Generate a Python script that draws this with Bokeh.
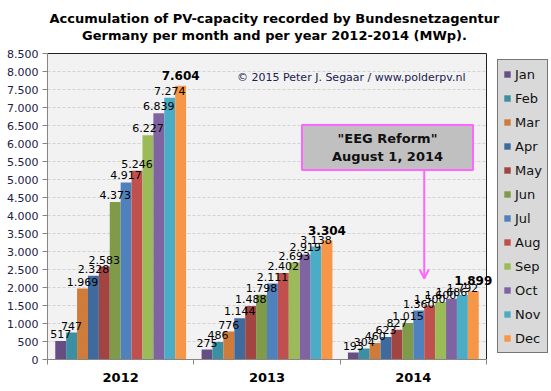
from bokeh.plotting import figure
from bokeh.models import (ColumnDataSource, Range1d, FixedTicker, Legend, LegendItem,
                          Label, Arrow, OpenHead)
from bokeh.transform import dodge
from bokeh.core.properties import value
from bokeh.embed import file_html
from bokeh.resources import INLINE

# ---------------- data ----------------
years = ["2012", "2013", "2014"]
months = ["Jan", "Feb", "Mar", "Apr", "May", "Jun",
          "Jul", "Aug", "Sep", "Oct", "Nov", "Dec"]
mwp_2012 = [517, 747, 1969, 2328, 2583, 4373, 4917, 5246, 6227, 6839, 7274, 7604]
mwp_2013 = [275, 486, 776, 1144, 1488, 1798, 2111, 2402, 2693, 2919, 3138, 3304]
mwp_2014 = [193, 304, 460, 623, 827, 1015, 1360, 1500, 1600, 1686, 1792, 1899]
month_colors = ["#664E85", "#3A8FA2", "#CF7B39", "#3F6A9E", "#A24442", "#7F9A48",
                "#4F81BD", "#C0504D", "#9BBB59", "#8064A2", "#4BACC6", "#F79646"]
y_ticks = [0, 500, 1000, 1500, 2000, 2500, 3000, 3500, 4000,
           4500, 5000, 5500, 6000, 6500, 7000, 7500, 8000, 8500]
y_tick_labels = ["0", "500", "1.000", "1.500", "2.000", "2.500", "3.000", "3.500", "4.000",
                 "4.500", "5.000", "5.500", "6.000", "6.500", "7.000", "7.500", "8.000", "8.500"]
title_lines = ["Accumulation of PV-capacity recorded by Bundesnetzagentur",
               "Germany per month and per year 2012-2014 (MWp)."]
credit = "\u00a9 2015 Peter J. Segaar / www.polderpv.nl"
note_text = '"EEG Reform"\nAugust 1, 2014'
note_year = "2014"
note_month = "Aug"


def fmt(v):
    return f"{v:,}".replace(",", ".")


series = [mwp_2012, mwp_2013, mwp_2014]
data = {"year": years, "xi": [i + 0.5 for i in range(len(years))]}
for j, m in enumerate(months):
    vals = [s[j] for s in series]
    data[m] = vals
    data[m + "_lbl"] = [fmt(v) for v in vals]
src = ColumnDataSource(data)

# ---------------- layout ----------------
# The frame covers the whole area right of the y axis and above the x axis;
# the grey plot area is drawn inside it so that title and legend stay unclipped.
W, H = 549, 389
MB_L, MB_B = 47, 30
FW, FH = W - MB_L, H - MB_B           # frame size in px
PLOT_W, PLOT_H = 439, 306             # grey plot-area size in px
Y_MAX = y_ticks[-1]
FONT = "DejaVu Sans"

p = figure(width=W, height=H, title=None,
           x_range=Range1d(0, len(years) * FW / PLOT_W),
           y_range=Range1d(0, Y_MAX * FH / PLOT_H),
           output_backend="svg", toolbar_location=None,
           min_border_left=MB_L, min_border_right=0,
           min_border_top=0, min_border_bottom=MB_B,
           background_fill_color="white", border_fill_color="white",
           outline_line_color=None)

# plot area
p.quad(left=[0], right=[len(years)], bottom=[0], top=[Y_MAX],
       fill_color="#F2F2F2", line_color="#222222", line_width=1)
p.segment(x0=[0] * (len(y_ticks) - 2), x1=[len(years)] * (len(y_ticks) - 2),
          y0=y_ticks[1:-1], y1=y_ticks[1:-1],
          line_color="#D2D2D2", line_dash="3 2", line_width=1)

# axes
xa = p.xaxis[0]
xa.bounds = (0, len(years))
xa.ticker = FixedTicker(ticks=data["xi"], minor_ticks=list(range(len(years) + 1)))
xa.major_label_overrides = {x: y for x, y in zip(data["xi"], years)}
xa.major_tick_in = 0
xa.major_tick_out = 0
xa.minor_tick_in = 0
xa.minor_tick_out = 5
xa.minor_tick_line_color = "#868686"
xa.axis_line_color = "#868686"
xa.major_label_standoff = 8
xa.major_label_text_font = FONT
xa.major_label_text_font_style = "bold"
xa.major_label_text_font_size = "13px"
xa.major_label_text_color = "black"

ya = p.yaxis[0]
ya.bounds = (0, Y_MAX)
ya.ticker = FixedTicker(ticks=y_ticks)
ya.major_label_overrides = {t: l for t, l in zip(y_ticks, y_tick_labels)}
ya.major_tick_in = 0
ya.major_tick_out = 5
ya.minor_tick_line_color = None
ya.major_tick_line_color = "#868686"
ya.axis_line_color = "#868686"
ya.major_label_standoff = 4
ya.major_label_text_font = FONT
ya.major_label_text_font_size = "11px"
ya.major_label_text_color = "#202045"

p.xgrid.grid_line_color = None
p.ygrid.grid_line_color = None

# bars
bw = 0.0745
items = []
for j, m in enumerate(months):
    off = (j - (len(months) - 1) / 2) * bw
    r = p.vbar(x=dodge("xi", off, range=p.x_range), top=m, width=bw, source=src,
               fill_color=month_colors[j], line_color=None)
    items.append(LegendItem(label=m, renderers=[r]))

# value labels
for j, m in enumerate(months):
    off = (j - (len(months) - 1) / 2) * bw
    last = (j == len(months) - 1)
    p.text(x=dodge("xi", off, range=p.x_range), y=m, text=m + "_lbl", source=src,
           text_align="center", text_baseline="bottom",
           y_offset=-6 if last else -3,
           text_font=value(FONT), text_font_size="12px" if last else "11px",
           text_font_style="bold" if last else "normal", text_color="black")

# legend right of the plot area
legend = Legend(items=items, location=(450, 6), orientation="vertical",
                background_fill_color="#D9D9D9", background_fill_alpha=1,
                border_line_color="#111111", border_line_width=1,
                glyph_width=8, glyph_height=8, label_standoff=4,
                label_height=18, spacing=6, padding=5, margin=0,
                label_text_font=FONT, label_text_font_size="13px",
                label_text_color="#111111")
p.add_layout(legend, "center")

# title (screen px from the frame's bottom-left)
for k, line in enumerate(title_lines):
    p.add_layout(Label(x=227, y=341.5 - 17.5 * k, x_units="screen", y_units="screen",
                       text=line, text_align="center", text_baseline="middle",
                       text_font=FONT, text_font_style="bold", text_font_size="13px",
                       text_color="black"))

# credit
p.add_layout(Label(x=418, y=282, x_units="screen", y_units="screen", text=credit,
                   text_align="right", text_baseline="middle", text_font=FONT,
                   text_font_size="11px", text_color="#202050"))

# note box
p.add_layout(Label(x=340, y=212, x_units="screen", y_units="screen", text=note_text,
                   text_align="center", text_baseline="middle", text_font=FONT,
                   text_font_style="bold", text_font_size="13px", text_color="#111111",
                   background_fill_color="#C0C0C0", background_fill_alpha=1,
                   border_line_color="#FF66FF", border_line_width=2,
                   padding=dict(left=30, right=30, top=6, bottom=6)))

# arrow pointing at the month of the reform
yi = years.index(note_year)
mi = months.index(note_month)
ax = data["xi"][yi] + (mi - (len(months) - 1) / 2) * bw - bw / 2
tip = series[yi][mi] + 750
p.add_layout(Arrow(end=OpenHead(size=9, line_color="#FF66FF", line_width=2),
                   x_start=ax, y_start=5280, x_end=ax, y_end=tip,
                   line_color="#FF66FF", line_width=2))

open("out.html", "w").write(file_html(p, INLINE))
